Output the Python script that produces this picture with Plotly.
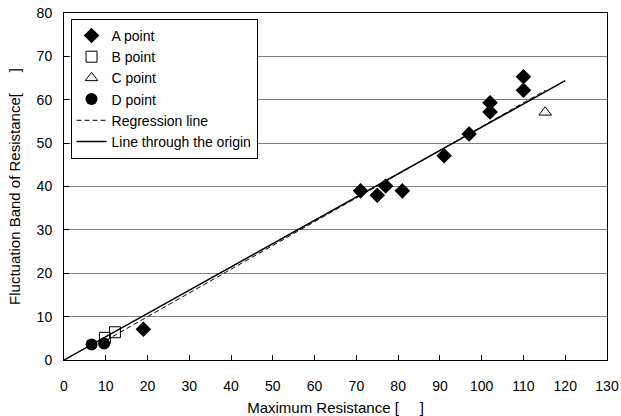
import plotly.graph_objects as go

# Data
a_x = [19, 71, 75, 77, 81, 91, 97, 102, 102, 110, 110]
a_y = [7.1, 39.0, 38.0, 40.1, 39.0, 47.1, 52.1, 57.2, 59.3, 62.2, 65.3]
b_x = [9.8, 12.2]
b_y = [5.1, 6.4]
c_x = [115.2]
c_y = [57.1]
d_x = [6.6, 9.6]
d_y = [3.6, 3.8]
reg_x = [10.0, 115.3]
reg_y = [4.5, 62.2]
orig_x = [0, 120]
orig_y = [0, 64.4]

x_ticks = list(range(0, 131, 10))
y_ticks = list(range(0, 81, 10))

FONT = "Liberation Sans, Arial, sans-serif"

fig = go.Figure()
fig.add_trace(go.Scatter(x=a_x, y=a_y, mode="markers", name="A point",
                         marker=dict(symbol="diamond", size=12, color="black")))
fig.add_trace(go.Scatter(x=b_x, y=b_y, mode="markers", name="B point",
                         marker=dict(symbol="square-open", size=11, color="black",
                                     line=dict(width=1, color="black"))))
fig.add_trace(go.Scatter(x=c_x, y=c_y, mode="markers", name="C point",
                         marker=dict(symbol="triangle-up-open", size=11, color="black",
                                     line=dict(width=1, color="black"))))
fig.add_trace(go.Scatter(x=d_x, y=d_y, mode="markers", name="D point",
                         marker=dict(symbol="circle", size=12, color="black")))
fig.add_trace(go.Scatter(x=reg_x, y=reg_y, mode="lines", name="Regression line",
                         line=dict(color="black", width=1, dash="5px,3px")))
fig.add_trace(go.Scatter(x=orig_x, y=orig_y, mode="lines", name="Line through the origin",
                         line=dict(color="black", width=1.5)))

fig.update_layout(
    width=621, height=416,
    margin=dict(l=64, r=14, t=13, b=56),
    paper_bgcolor="white", plot_bgcolor="white",
    font=dict(family=FONT, size=14, color="black"),
    showlegend=True,
    legend=dict(x=0.012, y=0.983, xanchor="left", yanchor="top",
                bgcolor="white", bordercolor="black", borderwidth=1,
                font=dict(family=FONT, size=14, color="black"),
                tracegroupgap=0, itemwidth=30),
    xaxis=dict(range=[0, 130], tickvals=x_ticks, ticks="inside", ticklen=5,
               tickcolor="black", showline=True, linecolor="black", linewidth=1,
               mirror=True, showgrid=False, zeroline=False, automargin=False,
               ticklabelstandoff=13, tickfont=dict(family=FONT, size=14),
               title=dict(text="Maximum Resistance [     ]", standoff=9,
                          font=dict(family=FONT, size=15))),
    yaxis=dict(range=[0, 80], tickvals=y_ticks, ticks="inside", ticklen=5,
               tickcolor="black", showline=True, linecolor="black", linewidth=1,
               mirror=True, showgrid=True, gridcolor="#808080", gridwidth=1,
               zeroline=False, automargin=False, ticklabelstandoff=8,
               tickfont=dict(family=FONT, size=14),
               title=dict(text="Fluctuation Band of Resistance[     ]", standoff=12,
                          font=dict(family=FONT, size=15))),
)

fig.write_html("out.html", config={"displayModeBar": False},
               post_script="document.body.style.margin='0';document.body.style.overflow='hidden';")
